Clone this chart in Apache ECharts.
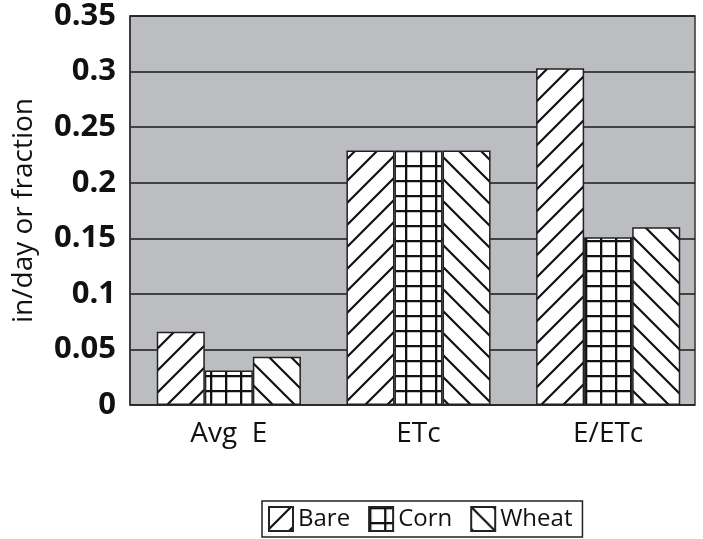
<!DOCTYPE html>
<html>
<head>
<meta charset="utf-8">
<script src="https://cdn.jsdelivr.net/npm/echarts@6/dist/echarts.min.js"></script>
<style>
  html, body { margin: 0; padding: 0; background: #fff; }
  #main { width: 703px; height: 539px; }
</style>
</head>
<body>
<div id="main"></div>
<script>
var categories = ['Avg  E', 'ETc', 'E/ETc'];
var bare = [0.066, 0.229, 0.303];
var corn = [0.031, 0.229, 0.151];
var wheat = [0.0435, 0.229, 0.160];
var yTicks = [0, 0.05, 0.1, 0.15, 0.2, 0.25, 0.3, 0.35];

// hatch patterns drawn on small canvases
function makePattern(kind) {
  var s = kind === 'grid' ? 15 : 22;
  var c = document.createElement('canvas');
  c.width = s; c.height = s;
  var ctx = c.getContext('2d');
  ctx.fillStyle = '#fff';
  ctx.fillRect(0, 0, s, s);
  ctx.strokeStyle = '#111';
  ctx.lineWidth = kind === 'grid' ? 2.6 : 2.2;
  ctx.beginPath();
  if (kind === 'fwd') {
    ctx.moveTo(-2, s + 2); ctx.lineTo(s + 2, -2);
    ctx.moveTo(-2, 2); ctx.lineTo(2, -2);
    ctx.moveTo(s - 2, s + 2); ctx.lineTo(s + 2, s - 2);
  } else if (kind === 'back') {
    ctx.moveTo(-2, -2); ctx.lineTo(s + 2, s + 2);
    ctx.moveTo(s - 2, -2); ctx.lineTo(s + 2, 2);
    ctx.moveTo(-2, s - 2); ctx.lineTo(2, s + 2);
  } else {
    ctx.moveTo(1, 0); ctx.lineTo(1, s);
    ctx.moveTo(0, 1); ctx.lineTo(s, 1);
  }
  ctx.stroke();
  return c;
}

var myChart = echarts.init(document.getElementById('main'), null, {
  width: 703,
  height: 539,
});

var font = 'Open Sans';

function barSeries(name, values, kind) {
  return {
    name: name,
    type: 'bar',
    xAxisIndex: 1,
    yAxisIndex: 1,
    data: values,
    barGap: '0%',
    barCategoryGap: '24%',
    itemStyle: {
      color: { image: makePattern(kind), repeat: 'repeat' },
      borderColor: '#222',
      borderWidth: 1.5
    },
    emphasis: { disabled: true }
  };
}

var option = {
  animation: false,
  grid: [
    // visible plot frame and value axis
    {
      left: 130,
      right: 8,
      top: 16,
      bottom: 134,
      show: true,
      backgroundColor: '#bcbdc0',
      borderColor: '#333',
      borderWidth: 1.5
    },
    // bars: the category slots run a little past the frame on the right
    {
      left: 134,
      right: -4,
      top: 16,
      bottom: 134
    }
  ],
  legend: {
    bottom: 2,
    left: 262,
    itemWidth: 24,
    itemHeight: 24,
    itemGap: 18,
    padding: [5, 10, 5, 6],
    borderColor: '#222',
    borderWidth: 1.5,
    icon: 'rect',
    textStyle: {
      fontFamily: font,
      fontSize: 24,
      color: '#111',
      padding: [0, 0, 0, 0]
    },
    data: ['Bare', 'Corn', 'Wheat']
  },
  xAxis: [
    {
      gridIndex: 0,
      type: 'category',
      data: categories,
      show: false
    },
    {
      gridIndex: 1,
      type: 'category',
      data: categories,
      axisLine: { show: false },
      axisTick: { show: false },
      axisLabel: {
        fontFamily: font,
        fontSize: 28,
        color: '#111',
        margin: 15
      }
    }
  ],
  yAxis: [
    {
      gridIndex: 0,
      type: 'value',
      min: 0,
      max: 0.35,
      interval: 0.05,
      name: 'in/day or fraction',
      nameLocation: 'middle',
      nameGap: 92,
      nameTextStyle: {
        fontFamily: font,
        fontSize: 28,
        color: '#111'
      },
      axisLine: { show: true, lineStyle: { color: '#333', width: 1.5 } },
      axisTick: { show: false },
      splitLine: { show: true, lineStyle: { color: '#1a1a1a', width: 1.5 } },
      axisLabel: {
        fontFamily: font,
        fontSize: 31,
        fontWeight: 'bold',
        color: '#111',
        margin: 14,
        formatter: function (v) {
          var t = yTicks.find(function (x) { return Math.abs(x - v) < 1e-9; });
          return t === undefined ? '' : String(t);
        }
      }
    },
    {
      gridIndex: 1,
      type: 'value',
      min: 0,
      max: 0.35,
      interval: 0.05,
      show: false
    }
  ],
  series: [
    barSeries('Bare', bare, 'fwd'),
    barSeries('Corn', corn, 'grid'),
    barSeries('Wheat', wheat, 'back')
  ]
};

myChart.setOption(option);
</script>
</body>
</html>
